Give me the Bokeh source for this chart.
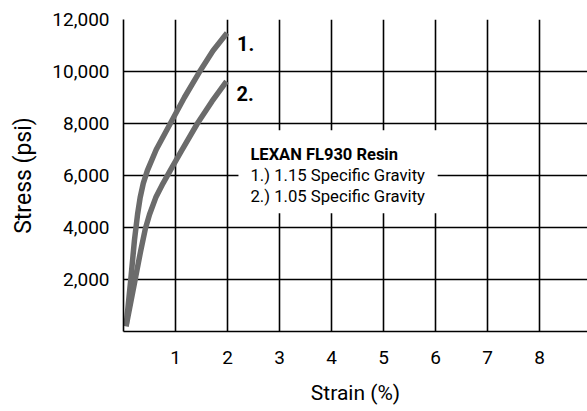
from bokeh.plotting import figure
from bokeh.models import FixedTicker, NumeralTickFormatter, Label, BoxAnnotation, Range1d, ColumnDataSource
from bokeh.embed import file_html
from bokeh.resources import INLINE

# ---- data ----
strain_115 = [0.05, 0.14, 0.21, 0.27, 0.32, 0.38, 0.46, 0.63, 0.9, 1.17, 1.45, 1.72, 1.99]
stress_115 = [200, 2000, 3500, 4500, 5150, 5700, 6200, 7000, 8000, 9000, 9950, 10800, 11480]
strain_105 = [0.05, 0.2, 0.33, 0.42, 0.5, 0.62, 0.76, 0.9, 1.1, 1.42, 1.7, 1.98]
stress_105 = [200, 1750, 3100, 3950, 4500, 5150, 5700, 6200, 6900, 8000, 8850, 9620]

x_ticks = [1, 2, 3, 4, 5, 6, 7, 8]
y_ticks = [2000, 4000, 6000, 8000, 10000, 12000]
x_label = "Strain (%)"
y_label = "Stress (psi)"
series_tags = ["1.", "2."]
note_title = "LEXAN FL930 Resin"
note_lines = ["1.) 1.15 Specific Gravity", "2.) 1.05 Specific Gravity"]

FONT = "Roboto"
CURVE = "#6b6b6b"

p = figure(width=587, height=411, output_backend="svg", toolbar_location=None,
           x_range=Range1d(0, 8.92), y_range=Range1d(0, 12000),
           min_border_left=123, min_border_right=0, min_border_top=19, min_border_bottom=80)
p.outline_line_color = None
p.background_fill_color = "white"
p.border_fill_color = "white"

for ax, ticks in ((p.xaxis, x_ticks), (p.yaxis, y_ticks)):
    ax.ticker = FixedTicker(ticks=ticks)
    ax.major_tick_in = 0
    ax.major_tick_out = 0
    ax.minor_tick_in = 0
    ax.minor_tick_out = 0
    ax.axis_line_color = "black"
    ax.axis_line_width = 1.6
    ax.major_label_text_font = FONT
    ax.major_label_text_font_size = "19px"
    ax.major_label_text_color = "black"
    ax.axis_label_text_font = FONT
    ax.axis_label_text_font_style = "normal"
    ax.axis_label_text_color = "black"

p.yaxis.formatter = NumeralTickFormatter(format="0,0")
p.yaxis.major_label_standoff = 14
p.xaxis.major_label_standoff = 19
p.xaxis.axis_label = x_label
p.yaxis.axis_label = y_label
p.xaxis.axis_label_text_font_size = "21px"
p.yaxis.axis_label_text_font_size = "23px"
p.xaxis.axis_label_standoff = 14
p.yaxis.axis_label_standoff = 12

for g in (p.xgrid, p.ygrid):
    g.grid_line_color = "black"
    g.grid_line_width = 1.6
p.xgrid.ticker = FixedTicker(ticks=x_ticks)
p.ygrid.ticker = FixedTicker(ticks=y_ticks)

src1 = ColumnDataSource(dict(x=strain_115, y=stress_115))
src2 = ColumnDataSource(dict(x=strain_105, y=stress_105))
p.line("x", "y", source=src1, line_color=CURVE, line_width=5.5, line_join="round")
p.line("x", "y", source=src2, line_color=CURVE, line_width=5.5, line_join="round")

# tags at curve ends
for xs, ys, tag, dy in ((strain_115, stress_115, series_tags[0], -10),
                        (strain_105, stress_105, series_tags[1], -12)):
    p.add_layout(Label(x=xs[-1], y=ys[-1], x_offset=10, y_offset=dy, text=tag,
                       text_font=FONT, text_font_style="bold", text_font_size="20px",
                       text_color="black", text_baseline="alphabetic", text_align="left"))

# white note box hiding the grid
p.add_layout(BoxAnnotation(left=2.21, right=6.04, bottom=4550, top=7740,
                           fill_color="white", fill_alpha=1.0, line_color=None))
p.add_layout(Label(x=2.44, y=6808, text=note_title, text_font=FONT, text_font_style="bold",
                   text_font_size="16.5px", text_color="black", text_baseline="alphabetic"))
for i, t in enumerate(note_lines):
    p.add_layout(Label(x=2.44, y=6808, y_offset=-20.8 * (i + 1), text=t, text_font=FONT,
                       text_font_size="16.7px", text_color="black", text_baseline="alphabetic"))

open("out.html", "w").write(file_html(p, INLINE))
